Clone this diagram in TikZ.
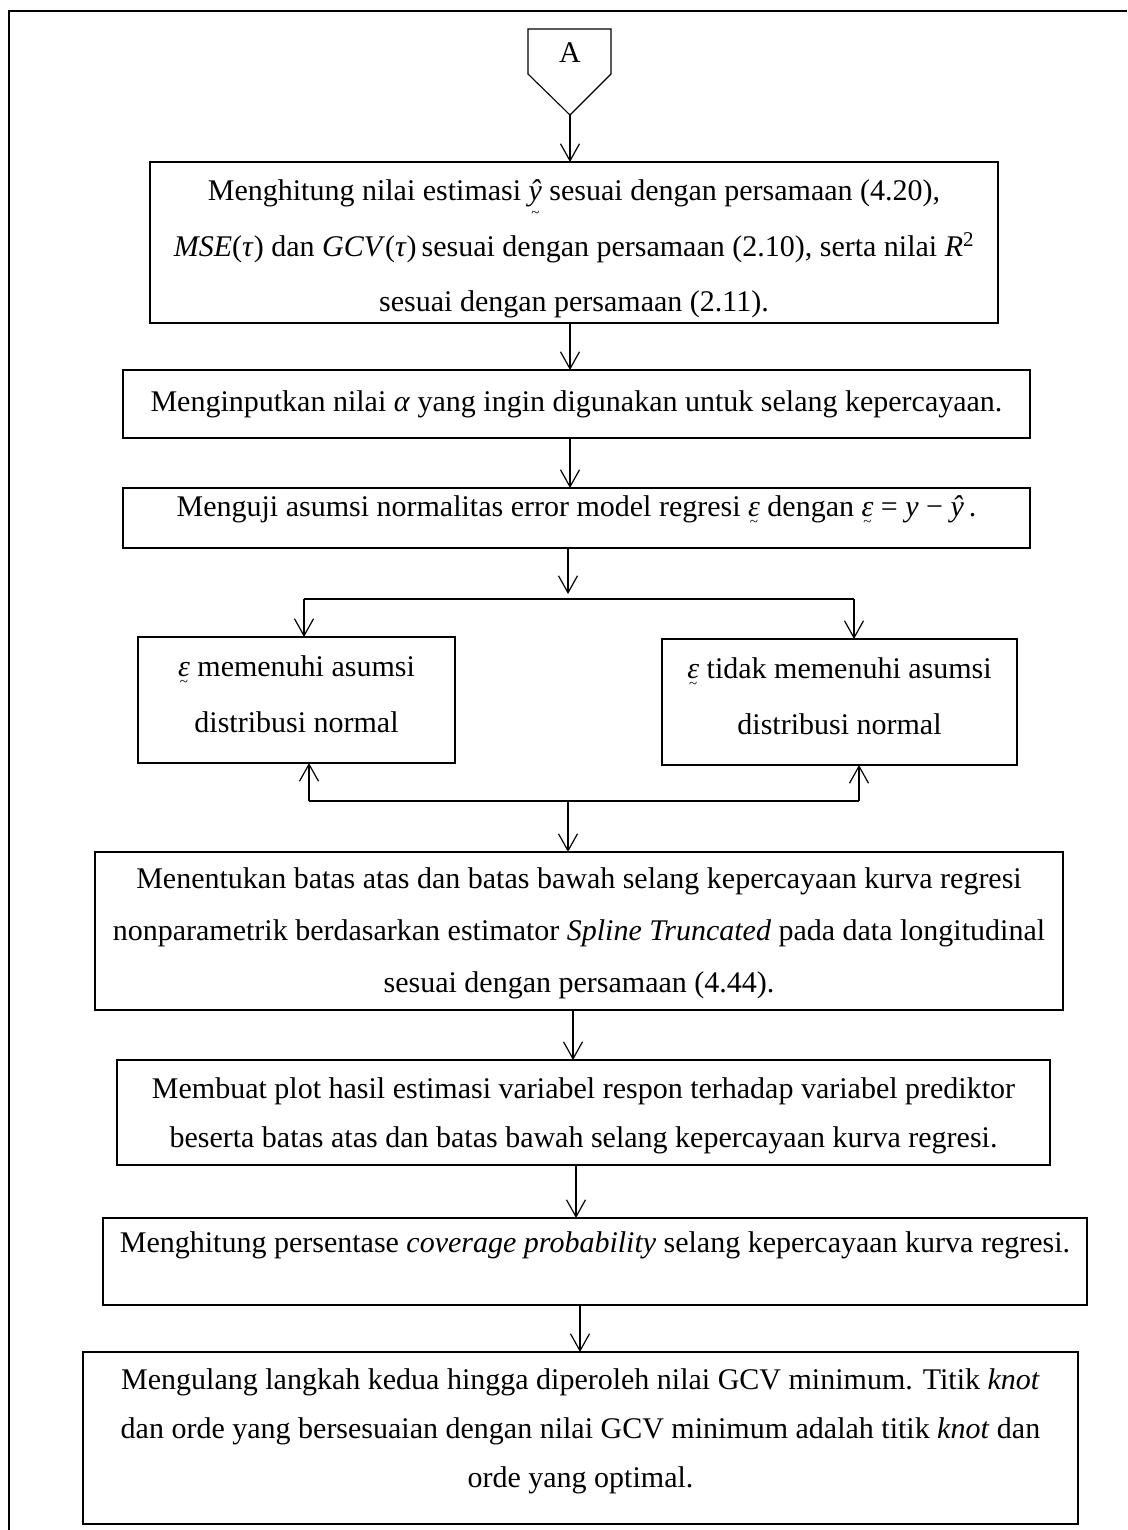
\documentclass[tikz,border=0pt]{standalone}
\usepackage{fontspec}
\setmainfont{Liberation Serif}
\usetikzlibrary{arrows.meta}
\newcommand{\utl}[2][4pt]{\leavevmode\vtop{\offinterlineskip\halign{\hfil##\hfil\cr#2\cr\noalign{\kern#1}\fontsize{15}{15}\selectfont\textasciitilde\cr}}}
\tikzset{
  boxnode/.style={draw=black, line width=1.3pt, rectangle, inner sep=0pt, outer sep=0pt},
  txt/.style={inner sep=0pt, outer sep=0pt, anchor=base, font=\fontsize{30}{36}\selectfont},
  arr/.style={line width=1.2pt, -{Straight Barb[length=17pt,width=19pt]}},
  ln/.style={line width=1.3pt},
  frameline/.style={line width=1.6pt},
  pent/.style={line width=1.1pt}
}
\begin{document}
\begin{tikzpicture}[x=1pt,y=-1pt]
\useasboundingbox (0,0) rectangle (1127,1530);
% outer frame (left and top visible)
\draw[frameline] (9,1530) -- (9,11) -- (1127,11);

% off-page connector A
\draw[pent] (528,29) -- (611,29) -- (611,74) -- (570,115) -- (528,74) -- cycle;
\node[txt] (A) at (570,63) {A};
\coordinate (Ap) at (570,115);

% boxes
\node[boxnode, minimum width=848pt, minimum height=161pt] (b1) at (574,242.5) {};
\node[boxnode, minimum width=907pt, minimum height=68pt] (b2) at (576.5,404) {};
\node[boxnode, minimum width=907pt, minimum height=60pt] (b3) at (576.5,518) {};
\node[boxnode, minimum width=317pt, minimum height=126pt] (bl) at (296.5,700) {};
\node[boxnode, minimum width=355pt, minimum height=126pt] (br) at (839.5,702) {};
\node[boxnode, minimum width=968pt, minimum height=158pt] (b4) at (579,931) {};
\node[boxnode, minimum width=933pt, minimum height=105pt] (b5) at (583.5,1112.5) {};
\node[boxnode, minimum width=984pt, minimum height=87pt] (b6) at (595,1261.5) {};
\node[boxnode, minimum width=995pt, minimum height=172pt] (b7) at (580.5,1438) {};

% texts
\node[txt] (t1a) at (574,201) {Menghitung nilai estimasi \utl{\textit{ŷ}} sesuai dengan persamaan (4.20),};
\node[txt] (t1b) at (574,256) {\textit{MSE}(\textit{τ}) dan \textit{GCV}(\textit{τ})\,sesuai dengan persamaan (2.10), serta nilai \textit{R}\textsuperscript{2}};
\node[txt] (t1c) at (574,311) {sesuai dengan persamaan (2.11).};
\node[txt] (t2) at (576.5,411) {Menginputkan nilai \textit{α} yang ingin digunakan untuk selang kepercayaan.};
\node[txt] (t3) at (576.5,516) {Menguji asumsi normalitas error model regresi \utl{\textit{ε}} dengan \utl{\textit{ε}} = \textit{y} − \textit{ŷ}\,.};
\node[txt] (tla) at (296.5,676) {\utl{\textit{ε}} memenuhi asumsi};
\node[txt] (tlb) at (296.5,732) {distribusi normal};
\node[txt] (tra) at (839.5,678) {\utl{\textit{ε}} tidak memenuhi asumsi};
\node[txt] (trb) at (839.5,734) {distribusi normal};
\node[txt] (t4a) at (579,888) {Menentukan batas atas dan batas bawah selang kepercayaan kurva regresi};
\node[txt] (t4b) at (579,940) {nonparametrik berdasarkan estimator \textit{Spline Truncated} pada data longitudinal};
\node[txt] (t4c) at (579,992) {sesuai dengan persamaan (4.44).};
\node[txt] (t5a) at (583.5,1098) {Membuat plot hasil estimasi variabel respon terhadap variabel prediktor};
\node[txt] (t5b) at (583.5,1147) {beserta batas atas dan batas bawah selang kepercayaan kurva regresi.};
\node[txt] (t6) at (595,1252) {Menghitung persentase \textit{coverage probability} selang kepercayaan kurva regresi.};
\node[txt] (t7a) at (580.5,1389) {Mengulang langkah kedua hingga diperoleh nilai GCV minimum. Titik \textit{knot}};
\node[txt] (t7b) at (580.5,1438) {dan orde yang bersesuaian dengan nilai GCV minimum adalah titik \textit{knot} dan};
\node[txt] (t7c) at (580.5,1487) {orde yang optimal.};

% connectors
\draw[arr] (Ap) -- (Ap |- b1.north);
\draw[arr] (b1.south -| Ap) -- (b2.north -| Ap);
\draw[arr] (b2.south -| Ap) -- (b3.north -| Ap);

\coordinate (sc) at (568,599);
\coordinate (sl) at (304,599);
\coordinate (sr) at (854,599);
\draw[arr] (b3.south -| sc) -- ([yshift=5pt]sc);
\draw[ln] (sl) -- (sr);
\draw[arr] (sl) -- (sl |- bl.north);
\draw[arr] (sr) -- (sr |- br.north);

\coordinate (jl) at (309,801);
\coordinate (jr) at (859,801);
\coordinate (jc) at (568,801);
\draw[ln] (jl) -- (jr);
\draw[arr] (jl) -- (jl |- bl.south);
\draw[arr] (jr) -- (jr |- br.south);
\draw[arr] (jc) -- (jc |- b4.north);

\coordinate (x5) at (573,0);
\coordinate (x6) at (576,0);
\coordinate (x7) at (580,0);
\draw[arr] (b4.south -| x5) -- (b5.north -| x5);
\draw[arr] (b5.south -| x6) -- (b6.north -| x6);
\draw[arr] (b6.south -| x7) -- (b7.north -| x7);
\end{tikzpicture}
\end{document}
